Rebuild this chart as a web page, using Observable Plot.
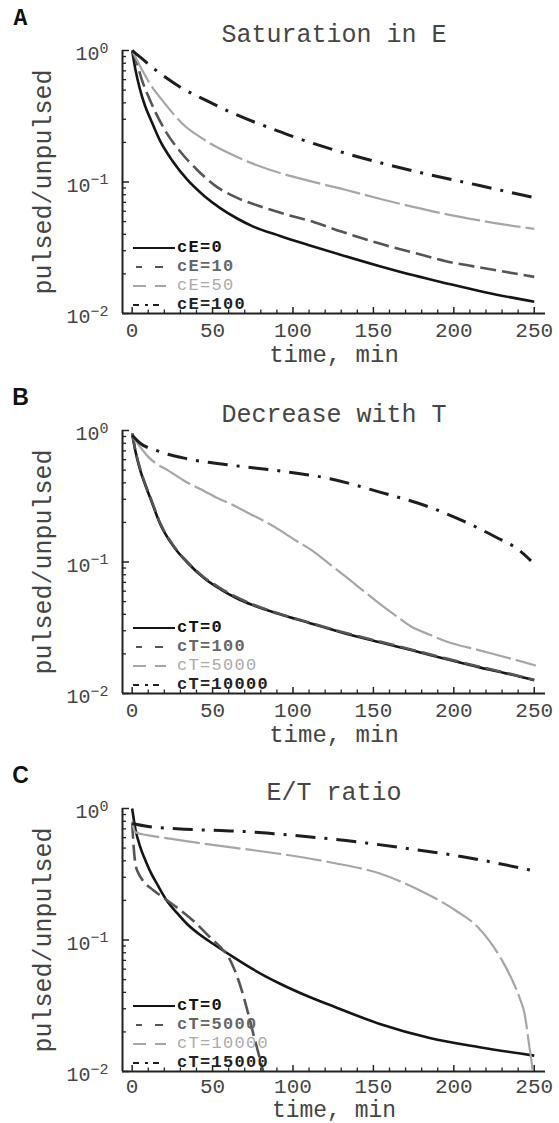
<!DOCTYPE html>
<html><head><meta charset="utf-8">
<script src="https://cdn.jsdelivr.net/npm/d3@7"></script>
<script src="https://cdn.jsdelivr.net/npm/@observablehq/plot@0.6"></script>
<style>
body{margin:0;background:#fff;}
.panel{position:relative;width:559px;overflow:hidden;}
.legend{position:absolute;left:0;top:0;font-family:"Liberation Mono",monospace;font-size:17px;letter-spacing:1.3px;}
.lrow{position:absolute;left:133px;height:19px;display:flex;align-items:center;white-space:nowrap;line-height:1;}
</style></head><body><div id="chart"></div>
<script>
// ---- tick values ----
const xTicks = [0, 50, 100, 150, 200, 250];
const xMinor = [10,20,30,40,60,70,80,90,110,120,130,140,160,170,180,190,210,220,230,240];
const yMajor = [0.01, 0.1, 1];
const yMinor = [0.02,0.03,0.04,0.05,0.06,0.07,0.08,0.09,0.2,0.3,0.4,0.5,0.6,0.7,0.8,0.9];

// ---- panel A: Saturation in E ----
const labelsA = ["cE=0", "cE=10", "cE=50", "cE=100"];
const cE0 = [[0,1],[2,0.72],[5,0.5],[8,0.38],[12,0.29],[17,0.21],[25,0.145],[34,0.105],[45,0.078],[55,0.063],[65,0.053],[75,0.046],[92,0.0389],[110,0.0331],[130,0.0279],[154,0.0229],[175,0.0195],[195,0.017],[220,0.01445],[250,0.0123]];
const cE10 = [[0,1],[3,0.8],[6,0.6],[10,0.45],[15,0.33],[22,0.23],[30,0.17],[40,0.125],[52,0.093],[65,0.076],[80,0.065],[95,0.057],[112,0.05],[130,0.042],[154,0.034],[175,0.029],[195,0.025],[220,0.022],[250,0.019]];
const cE50 = [[0,1],[5,0.76],[11,0.56],[20,0.4],[31.6,0.275],[45,0.209],[60,0.166],[75,0.138],[92,0.117],[110,0.102],[133,0.087],[155,0.074],[174,0.065],[195,0.057],[216,0.051],[250,0.044]];
const cE100 = [[0,1],[5,0.89],[15,0.705],[30,0.526],[46,0.417],[63,0.332],[90,0.246],[98,0.226],[133,0.165],[174,0.122],[216,0.094],[250,0.076]];

// ---- panel B: Decrease with T ----
const labelsB = ["cT=0", "cT=100", "cT=5000", "cT=10000"];
const cT0_B = [[0,0.95],[2,0.7],[5,0.5],[8,0.39],[12,0.29],[17,0.2],[25,0.135],[34,0.1],[45,0.075],[55,0.062],[65,0.053],[75,0.047],[92,0.04],[110,0.0344],[133,0.0285],[154,0.0245],[174,0.0213],[195,0.0183],[216,0.0158],[235,0.014],[250,0.0126]];
const cT100_B = [[0,0.95],[2,0.71],[5,0.51],[8,0.395],[12,0.295],[17,0.203],[25,0.137],[34,0.101],[45,0.076],[55,0.063],[65,0.054],[75,0.0475],[92,0.0403],[110,0.0347],[133,0.0288],[154,0.0248],[174,0.0215],[195,0.0185],[216,0.016],[235,0.0141],[250,0.0127]];
const cT5000_B = [[0,0.92],[5,0.75],[10,0.63],[15,0.56],[22,0.5],[32,0.417],[42,0.36],[52,0.311],[63,0.27],[73,0.233],[82,0.205],[92,0.174],[102,0.145],[112,0.122],[122,0.098],[133,0.077],[144,0.06],[154,0.048],[164,0.039],[174,0.032],[185,0.028],[195,0.025],[216,0.0213],[235,0.0185],[251,0.0163]];
const cT10000_B = [[0,0.92],[5,0.8],[15,0.705],[34,0.61],[63,0.542],[90,0.496],[123,0.43],[154,0.34],[185,0.261],[205,0.207],[226,0.155],[241,0.122],[248,0.102]];

// ---- panel C: E/T ratio ----
const labelsC = ["cT=0", "cT=5000", "cT=10000", "cT=15000"];
const cT0_C = [[0,1],[2,0.7],[5,0.51],[8,0.41],[11,0.337],[16,0.26],[21.5,0.2],[28,0.16],[34,0.133],[42,0.11],[50,0.094],[63,0.074],[75,0.06],[92,0.0465],[110,0.037],[123,0.032],[154,0.023],[185,0.018],[216,0.0153],[250,0.0132]];
const cT5000_C = [[0,0.78],[1,0.5],[2,0.38],[4,0.32],[7,0.28],[13,0.24],[19.4,0.21],[27.7,0.177],[38,0.14],[48.4,0.105],[55,0.088],[60,0.074],[64,0.058],[68,0.042],[72,0.028],[75.5,0.019],[78.5,0.0138],[81.5,0.01]];
const cT10000_C = [[0,0.8],[2,0.66],[10,0.625],[17,0.605],[40,0.55],[69,0.493],[92,0.452],[123,0.39],[154,0.32],[179,0.238],[201,0.168],[215,0.125],[222,0.099],[230,0.07],[236.5,0.049],[241,0.036],[244,0.0275],[247,0.0153],[248.5,0.0115],[249,0.01]];
const cT15000_C = [[0,0.77],[10,0.73],[28,0.70],[55,0.68],[77,0.66],[90,0.64],[133,0.57],[174.5,0.49],[205.6,0.43],[249,0.337]];

const titles = ["Saturation in E", "Decrease with T", "E/T ratio"];
const letters = ["A", "B", "C"];

// line styles (solid, dashed, long light dashes, dash-dot)
const styles = [
  {stroke: "#151515", strokeWidth: 2.6, dash: null},
  {stroke: "#555", strokeWidth: 2.6, dash: "16,6"},
  {stroke: "#a6a6a6", strokeWidth: 2.2, dash: "36,5"},
  {stroke: "#1e1e1e", strokeWidth: 3, dash: "20,9,3,9"}
];
const legendStyles = [
  {dash: null, x1: 0, x2: 42, txt: "#111", weight: "bold"},
  {dash: "6,13,8", x1: 3, x2: 30, txt: "#666", weight: "bold"},
  {dash: "13,9,11", x1: 0, x2: 33, txt: "#aaa", weight: "normal"},
  {dash: "6,6,3,5,6", x1: 0, x2: 26, txt: "#222", weight: "bold"}
];

const panels = [
  {series: [cE0, cE10, cE50, cE100], labels: labelsA, height: 380, tickDy: 17, labDy: 41, labSize: 24},
  {series: [cT0_B, cT100_B, cT5000_B, cT10000_B], labels: labelsB, height: 378, tickDy: 17, labDy: 41, labSize: 24},
  {series: [cT0_C, cT5000_C, cT10000_C, cT15000_C], labels: labelsC, height: 365, tickDy: 15, labDy: 38.5, labSize: 23}
];

const W = 559, mL = 122, mR = 14, mT = 50, axisY = 313;
const txt = "#454545";
const root = document.getElementById("chart");

panels.forEach((p, k) => {
  const H = p.height;
  const mB = H - axisY;
  const innerW = W - mL - mR, innerH = H - mT - mB;
  const xDomain = [-6, 257];
  const marks = [];
  p.series.forEach((s, i) => {
    const st = styles[i];
    marks.push(Plot.line(s, {x: d => d[0], y: d => d[1], stroke: st.stroke, strokeWidth: st.strokeWidth,
      strokeDasharray: st.dash, curve: "monotone-x", strokeLinecap: "butt"}));
  });
  marks.push(Plot.ruleX([xDomain[0]], {stroke: "#222", strokeWidth: 2}));
  marks.push(Plot.ruleY([0.01], {stroke: "#222", strokeWidth: 2}));
  marks.push(Plot.ruleX(xMinor, {x: d => d, insetTop: innerH - 3.5, stroke: "#222", strokeWidth: 1.3}));
  marks.push(Plot.ruleX(xTicks, {x: d => d, insetTop: innerH - 6, stroke: "#222", strokeWidth: 1.5}));
  marks.push(Plot.ruleY(yMinor, {y: d => d, insetRight: innerW - 4, stroke: "#222", strokeWidth: 1.3}));
  marks.push(Plot.ruleY(yMajor, {y: d => d, insetRight: innerW - 7, stroke: "#222", strokeWidth: 1.5}));
  marks.push(Plot.text(xTicks, {x: d => d, frameAnchor: "bottom", dy: p.tickDy, text: d => String(d),
    fontSize: 21, fill: txt, textAnchor: "middle", lineAnchor: "middle"}));
  marks.push(Plot.text(yMajor, {y: d => d, frameAnchor: "left", dx: -14, dy: 3.5,
    text: d => "10^" + Math.round(Math.log10(d)), fontSize: 20, fill: txt,
    textAnchor: "end", lineAnchor: "middle"}));
  marks.push(Plot.text(["time, min"], {frameAnchor: "bottom", dy: p.labDy, fontSize: p.labSize, fill: txt,
    textAnchor: "middle", lineAnchor: "middle"}));
  marks.push(Plot.text(["pulsed/unpulsed"], {frameAnchor: "left", dx: -80, rotate: -90, fontSize: 25, fill: txt,
    textAnchor: "middle", lineAnchor: "middle"}));
  marks.push(Plot.text([titles[k]], {frameAnchor: "top", dy: -17, fontSize: 25, fill: txt,
    textAnchor: "middle", lineAnchor: "middle"}));
  marks.push(Plot.text([letters[k]], {frameAnchor: "top-left", dx: -102, dy: -33, fontSize: 23,
    fontWeight: "bold", fill: "#111", textAnchor: "middle", lineAnchor: "middle",
    fontFamily: k === 0 ? "Liberation Mono" : "Liberation Sans"}));

  const svg = Plot.plot({
    width: W, height: H,
    marginLeft: mL, marginRight: mR, marginTop: mT, marginBottom: mB,
    x: {domain: xDomain, axis: null},
    y: {type: "log", domain: [0.01, 1], axis: null},
    style: {fontFamily: "Liberation Mono, monospace", background: "white", overflow: "visible"},
    marks
  });
  // superscript exponents on the y tick labels
  d3.select(svg).selectAll("text").each(function() {
    const s = this.textContent;
    if (!s.includes("^")) return;
    const parts = s.split("^");
    while (this.firstChild) this.removeChild(this.firstChild);
    this.appendChild(document.createTextNode(parts[0]));
    const ts = document.createElementNS("http://www.w3.org/2000/svg", "tspan");
    ts.setAttribute("dy", "-0.5em");
    ts.setAttribute("font-size", "15");
    ts.textContent = parts[1].replace("-", "\u2212");
    this.appendChild(ts);
  });

  const div = document.createElement("div");
  div.className = "panel";
  div.style.height = H + "px";
  div.appendChild(svg);
  const leg = document.createElement("div");
  leg.className = "legend";
  p.labels.forEach((lab, i) => {
    const ls = legendStyles[i], st = styles[i];
    const row = document.createElement("div");
    row.className = "lrow";
    row.style.top = (237.5 + i * 19.2) + "px";
    row.innerHTML = `<svg width="44" height="19"><line x1="${ls.x1}" x2="${ls.x2}" y1="10" y2="10" stroke="${st.stroke}" stroke-width="${i === 2 ? 2 : 2.2}" ${ls.dash ? `stroke-dasharray="${ls.dash}"` : ""}/></svg><span style="color:${ls.txt};font-weight:${ls.weight}">${lab}</span>`;
    leg.appendChild(row);
  });
  div.appendChild(leg);
  root.appendChild(div);
});
</script>
</body></html>
